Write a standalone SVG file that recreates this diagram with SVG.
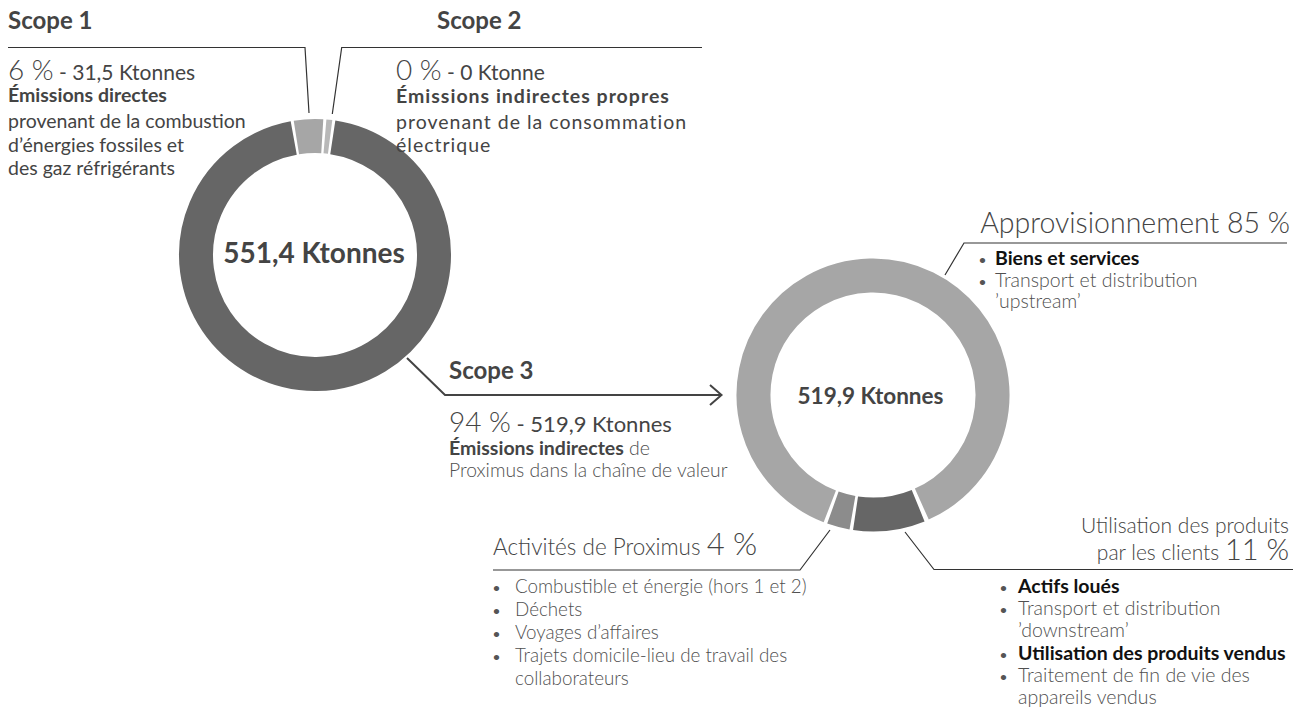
<svg xmlns="http://www.w3.org/2000/svg" width="1302" height="717" viewBox="0 0 1302 717">
<style>
text{font-family:Lato,"Open Sans","Liberation Sans",sans-serif;fill:#444}
.h{font-size:24px;font-weight:700}
.big{font-size:28px;font-weight:300}
.mid{font-size:21px;font-weight:400}
.b{font-size:19.5px;font-weight:700}
.t{font-size:19.5px;font-weight:400}
.l{font-size:19.5px;font-weight:300;fill:#505050}
.bk{font-size:19.5px;font-weight:700;fill:#111}
.dot{font-size:12px;font-weight:700;fill:#555}
.sp{letter-spacing:1px}
.ring{fill:none;stroke-width:34}
.ln{fill:none;stroke:#333;stroke-width:1.2}
</style>
<g id="donut1">
<path class="ring" stroke="#666" d="M332.8,137.34 A119,119 0 1 1 293.72,137.92"/>
<path class="ring" stroke="#a6a6a6" d="M296.38,137.47 A119,119 0 0 1 322.27,136.22"/>
<path class="ring" stroke="#b8b8b8" d="M324.96,136.42 A119,119 0 0 1 330.12,136.97"/>
<text x="314" y="263" text-anchor="middle" style="font-size:28px;font-weight:700">551,4 Ktonnes</text>
</g>
<g id="donut2">
<path class="ring" stroke="#a6a6a6" stroke-width="33" d="M829.79,506.41 A119.5,119.5 0 1 1 921.8,504.08"/>
<path class="ring" stroke="#8c8c8c" stroke-width="33" d="M852.45,512.72 A119.5,119.5 0 0 1 832.91,507.58"/>
<path class="ring" stroke="#666" stroke-width="33" d="M918.15,505.64 A119.5,119.5 0 0 1 855.54,513.22"/>
<text x="870.5" y="404" text-anchor="middle" style="font-size:22.5px;font-weight:700">519,9 Ktonnes</text>
</g>
<g id="connectors">
<polyline class="ln" points="8,47.5 305,47.5 309,113"/>
<polyline class="ln" points="332.3,114 341.7,47.5 702,47.5"/>
<polyline class="ln" style="stroke:#444;stroke-width:2" points="407,358 445,395 721,395"/>
<polyline class="ln" style="stroke:#444;stroke-width:2" points="710,385 721.5,395 710,405"/>
<polyline class="ln" points="945,275 964,243 1287,243"/>
<polyline class="ln" points="905,532 934,569.5 1293,569.5"/>
<polyline class="ln" points="830,530 800,570 493,570"/>
</g>
<g id="scope1">
<text x="8" y="29" class="h">Scope 1</text>
<text x="8" y="80"><tspan class="big">6 %</tspan><tspan class="mid"> - 31,5 Ktonnes</tspan></text>
<text x="8" y="102" class="b">Émissions directes</text>
<text x="8" y="128" class="t">provenant de la combustion</text>
<text x="8" y="152" class="t">d’énergies fossiles et</text>
<text x="8" y="175" class="t">des gaz réfrigérants</text>
</g>
<g id="scope2">
<text x="437" y="29" class="h">Scope 2</text>
<text x="396" y="80"><tspan class="big">0 %</tspan><tspan class="mid"> - 0 Ktonne</tspan></text>
<text x="396" y="103" class="b sp">Émissions indirectes propres</text>
<text x="396" y="129" class="t sp">provenant de la consommation</text>
<text x="396" y="152" class="t sp">électrique</text>
</g>
<g id="scope3">
<text x="449" y="379" class="h">Scope 3</text>
<text x="449" y="432"><tspan class="big">94 %</tspan><tspan class="mid" style="font-size:22px"> - 519,9 Ktonnes</tspan></text>
<text x="449" y="455"><tspan class="b">Émissions indirectes</tspan><tspan class="l"> de</tspan></text>
<text x="449" y="477" class="l" style="font-size:19.3px">Proximus dans la chaîne de valeur</text>
</g>
<g id="appro">
<text x="1290" y="233" text-anchor="end" style="font-size:28.5px;font-weight:300">Approvisionnement 85 %</text>
<text x="979" y="264" class="dot">•</text><text x="995" y="265" class="bk">Biens et services</text>
<text x="979" y="286" class="dot">•</text><text x="995" y="287" class="l">Transport et distribution</text>
<text x="995" y="308" class="l">’upstream’</text>
</g>
<g id="utilisation">
<text x="1289" y="533" text-anchor="end" style="font-size:21px;font-weight:300">Utilisation des produits</text>
<text x="1289" y="560" text-anchor="end"><tspan style="font-size:21px;font-weight:300">par les clients </tspan><tspan style="font-size:29px;font-weight:300">11 %</tspan></text>
<text x="1000" y="592" class="dot">•</text><text x="1018" y="593" class="bk">Actifs loués</text>
<text x="1000" y="614" class="dot">•</text><text x="1018" y="615" class="l">Transport et distribution</text>
<text x="1018" y="637" class="l">’downstream’</text>
<text x="1000" y="659" class="dot">•</text><text x="1018" y="660" class="bk">Utilisation des produits vendus</text>
<text x="1000" y="681" class="dot">•</text><text x="1018" y="682" class="l">Traitement de fin de vie des</text>
<text x="1018" y="704" class="l">appareils vendus</text>
</g>
<g id="activites">
<text x="493" y="555"><tspan style="font-size:22.5px;font-weight:300">Activités de Proximus </tspan><tspan style="font-size:31px;font-weight:300">4 %</tspan></text>
<text x="493" y="592" class="dot">•</text><text x="515" y="593" class="l" style="font-size:18.8px">Combustible et énergie (hors 1 et 2)</text>
<text x="493" y="615" class="dot">•</text><text x="515" y="616" class="l" style="font-size:18.8px">Déchets</text>
<text x="493" y="638" class="dot">•</text><text x="515" y="639" class="l" style="font-size:18.8px">Voyages d’affaires</text>
<text x="493" y="661" class="dot">•</text><text x="515" y="662" class="l" style="font-size:18.8px">Trajets domicile-lieu de travail des</text>
<text x="515" y="685" class="l" style="font-size:18.8px">collaborateurs</text>
</g>
</svg>
